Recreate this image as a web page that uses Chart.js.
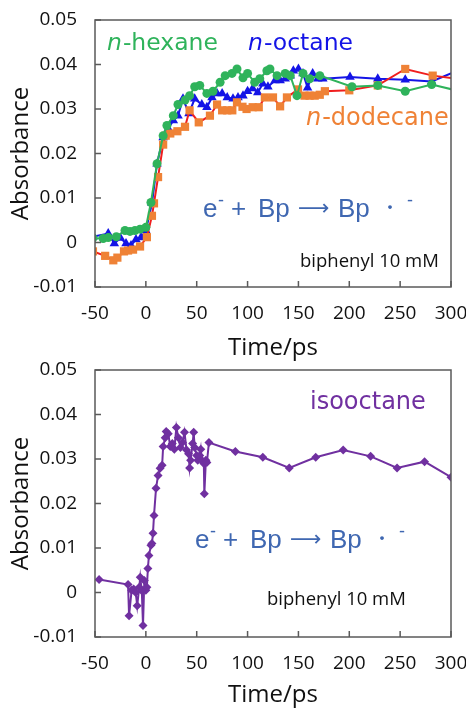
<!DOCTYPE html>
<html>
<head>
<meta charset="utf-8">
<script src="https://cdn.jsdelivr.net/npm/chart.js@4.4.1/dist/chart.umd.min.js"></script>
<style>
  body { margin: 0; background: #fff; width: 466px; height: 710px; overflow: hidden; position: relative; }
  canvas { position: absolute; left: 0; }
  #c1 { top: 0; }
  #c2 { top: 355px; }
</style>
</head>
<body>
<canvas id="c1" width="466" height="363"></canvas>
<canvas id="c2" width="466" height="355"></canvas>
<script>
// time axis (ps) and absorbance for each solvent
const hexaneT = [-52, -42, -37, -29, -20.5, -15.6, -10.7, -5.7, 0, 5, 11, 17, 20.7, 27, 31.6, 38.5, 43, 48, 53, 60, 66, 73, 78, 84.7, 89.6, 95.5, 100, 107, 112, 119, 122, 129, 137, 142, 148.6, 154.5, 161, 171, 202.6, 228, 255, 281, 305];
const hexaneA = [0.0010, 0.0009, 0.0011, 0.0013, 0.0027, 0.0025, 0.0027, 0.0030, 0.0034, 0.0090, 0.0177, 0.0240, 0.0263, 0.0285, 0.0310, 0.0320, 0.0330, 0.0350, 0.0353, 0.0335, 0.0340, 0.0360, 0.0375, 0.0380, 0.0390, 0.0370, 0.0380, 0.0360, 0.0368, 0.0386, 0.0390, 0.0375, 0.0380, 0.0375, 0.0330, 0.0380, 0.0368, 0.0375, 0.0350, 0.0353, 0.0340, 0.0355, 0.0342];

const octaneT = [-52, -37, -31, -25, -19.5, -14.6, -9.7, -4.8, 0, 6, 11, 17, 22, 27, 31.6, 36.5, 42.4, 48, 55, 60, 65, 70, 75, 80, 85.7, 90.6, 95.5, 100, 105, 110, 115, 120, 127, 132, 137, 142, 145, 150, 154.5, 159, 164, 169, 174, 200.7, 228, 255, 281, 305];
const octaneA = [0.0013, 0.0020, -0.0002, 0.0010, -0.0002, -0.0007, 0.0007, 0.0011, 0.0027, 0.0088, 0.0177, 0.0236, 0.0256, 0.0274, 0.0285, 0.0323, 0.0290, 0.0323, 0.0310, 0.0304, 0.0326, 0.0335, 0.0335, 0.0326, 0.0323, 0.0326, 0.0330, 0.0340, 0.0346, 0.0337, 0.0357, 0.0350, 0.0364, 0.0364, 0.0368, 0.0375, 0.0386, 0.0390, 0.0380, 0.0348, 0.0380, 0.0368, 0.0368, 0.0372, 0.0368, 0.0366, 0.0362, 0.0385];

const dodecaneT = [-52, -40, -32, -28, -21.5, -17.5, -12.6, -5.7, 1, 6, 8, 12, 17, 19.5, 24, 31, 38.5, 43, 52, 63, 70, 75, 80, 85, 89.6, 95, 99, 105, 111, 117, 125, 132, 138.7, 149.6, 156, 161, 166, 171, 176, 200, 228, 255, 282, 305];
const dodecaneA = [-0.0020, -0.0030, -0.0040, -0.0034, -0.0020, -0.0018, -0.0016, -0.0009, 0.0012, 0.0060, 0.0088, 0.0147, 0.0220, 0.0240, 0.0245, 0.0250, 0.0260, 0.0297, 0.0270, 0.0285, 0.0310, 0.0297, 0.0297, 0.0297, 0.0315, 0.0305, 0.0300, 0.0304, 0.0304, 0.0326, 0.0326, 0.0306, 0.0326, 0.0344, 0.0330, 0.0330, 0.0330, 0.0332, 0.0340, 0.0342, 0.0353, 0.0390, 0.0375, 0.0368];

const isooctaneT = [-46, -17.5, -16.5, -14, -12, -10, -8.5, -6.5, -5.5, -4, -2.8, -1.5, 0, 1, 2, 3, 5, 6, 7, 8, 10, 12, 14, 16, 17, 19, 20, 22, 24, 26, 28, 30, 32, 34, 36, 38, 40, 42, 43, 44, 46, 47, 48, 50, 51, 53, 54, 55, 57, 57.5, 59, 60, 62, 88, 115, 141, 167, 194, 221, 247, 274, 300];
const isooctaneA = [0.0029, 0.0018, -0.0052, 0.0005, 0.0008, 0.0000, -0.0030, 0.0012, 0.0034, 0.0004, -0.0074, 0.0027, 0.0005, 0.0012, 0.0054, 0.0083, 0.0106, 0.0110, 0.0133, 0.0173, 0.0234, 0.0263, 0.0279, 0.0286, 0.0328, 0.0348, 0.0362, 0.0357, 0.0328, 0.0335, 0.0322, 0.0371, 0.0348, 0.0326, 0.0337, 0.0360, 0.0320, 0.0312, 0.0280, 0.0297, 0.0335, 0.0360, 0.0326, 0.0308, 0.0297, 0.0308, 0.0322, 0.0297, 0.0290, 0.0222, 0.0297, 0.0292, 0.0337, 0.0317, 0.0304, 0.0280, 0.0304, 0.0320, 0.0306, 0.0280, 0.0294, 0.0259];

const xTicks = [-50, 0, 50, 100, 150, 200, 250, 300];
const yTicks = [-0.01, 0, 0.01, 0.02, 0.03, 0.04, 0.05];

const FONT = "'Open Sans', 'Noto Sans', sans-serif";
const LBL_FONT = "'DejaVu Sans', sans-serif";
const EQ_FONT = "'Liberation Sans', Arial, sans-serif";
const BOX = '#5a5a5a';

function pts(t, a) {
  return t.map((x, i) => ({ x: x, y: a[i] }));
}

// box round the plot and the inner tick marks
const boxPlugin = {
  id: 'box',
  afterDatasetsDraw(chart) {
    const { ctx, chartArea: ca, scales } = chart;
    ctx.save();
    ctx.strokeStyle = BOX;
    ctx.lineWidth = 1.5;
    ctx.strokeRect(ca.left, ca.top, ca.right - ca.left, ca.bottom - ca.top);
    ctx.beginPath();
    xTicks.forEach(v => {
      const px = scales.x.getPixelForValue(v);
      ctx.moveTo(px, ca.bottom);
      ctx.lineTo(px, ca.bottom - 6);
    });
    yTicks.forEach(v => {
      const py = scales.y.getPixelForValue(v);
      ctx.moveTo(ca.left, py);
      ctx.lineTo(ca.left + 6, py);
    });
    ctx.stroke();
    ctx.restore();
  }
};

// text labels inside the plot
function drawLabel(ctx, parts, x, y) {
  let cx = x;
  parts.forEach(p => {
    ctx.font = p.font;
    ctx.fillStyle = p.color;
    ctx.fillText(p.text, cx, y + (p.dy || 0));
    cx += ctx.measureText(p.text).width + (p.gap || 0);
  });
}

// e- + Bp -> Bp.-  (each piece placed by its offset from the start)
function drawEquation(ctx, x, y) {
  const c = '#3f67b1';
  const big = '26px ' + EQ_FONT;
  const sup = '18px ' + EQ_FONT;
  const pieces = [
    { text: 'e', font: big, at: 0, dy: 0 },
    { text: '-', font: sup, at: 15, dy: -11 },
    { text: '+', font: big, at: 28, dy: 0 },
    { text: 'Bp', font: big, at: 55, dy: 0 },
    { text: '\u27F6', font: "22px 'DejaVu Sans', sans-serif", at: 95, dy: -2 },
    { text: 'Bp', font: big, at: 135, dy: 0 },
    { text: '\u30FB', font: "18px 'Noto Sans CJK JP', sans-serif", at: 178, dy: -3 },
    { text: '-', font: sup, at: 204, dy: -11 }
  ];
  ctx.fillStyle = c;
  pieces.forEach(p => {
    ctx.font = p.font;
    ctx.fillText(p.text, x + p.at, y + p.dy);
  });
}

function makeChart(id, datasets, topPx, bottomPx, labels) {
  const canvas = document.getElementById(id);
  const xHeight = canvas.height - bottomPx;
  return new Chart(canvas, {
    type: 'line',
    data: { datasets: datasets },
    options: {
      responsive: false,
      animation: false,
      layout: { padding: { top: topPx, right: 15, left: 0, bottom: 0 } },
      plugins: { legend: { display: false }, tooltip: { enabled: false } },
      elements: { line: { tension: 0, borderWidth: 2 } },
      scales: {
        x: {
          type: 'linear', min: -50, max: 300,
          afterBuildTicks: s => { s.ticks = xTicks.map(v => ({ value: v })); },
          afterFit: s => { s.height = xHeight; s.paddingLeft = 0; s.paddingRight = 0; },
          grid: { display: false, drawTicks: false },
          border: { display: false },
          ticks: { padding: 15, color: '#111', font: { family: FONT, size: 19 }, maxRotation: 0, autoSkip: false },
          title: { display: true, text: 'Time/ps', color: '#111', font: { family: FONT, size: 24 }, padding: 0 }
        },
        y: {
          min: -0.01, max: 0.05,
          afterBuildTicks: s => { s.ticks = yTicks.map(v => ({ value: v })); },
          afterFit: s => { s.width = 95; s.paddingTop = 0; s.paddingBottom = 0; },
          grid: { display: false, drawTicks: false },
          border: { display: false },
          ticks: {
            padding: 18, color: '#111', font: { family: FONT, size: 19 },
            callback: v => String(Math.round(v * 100) / 100)
          },
          title: { display: true, text: 'Absorbance', color: '#111', font: { family: FONT, size: 24 }, padding: { top: 7, bottom: 0 } }
        }
      }
    },
    plugins: [boxPlugin, { id: 'labels', afterDraw: c => labels(c.ctx) }]
  });
}

makeChart('c1', [
  {
    data: pts(hexaneT, hexaneA), borderColor: '#2fb35b', backgroundColor: '#2fb35b',
    pointStyle: 'circle', pointRadius: 4.5, pointBorderWidth: 0
  },
  {
    data: pts(dodecaneT, dodecaneA), borderColor: '#f01e1e', backgroundColor: '#ef8236',
    pointStyle: 'rect', pointRadius: 5.8, pointBorderWidth: 0
  },
  {
    data: pts(octaneT, octaneA), borderColor: '#1414e6', backgroundColor: '#1414e6',
    pointStyle: 'triangle', pointRadius: 5.5, pointBorderWidth: 0
  }
], 20, 287, ctx => {
  ctx.save();
  ctx.textBaseline = 'alphabetic';
  drawLabel(ctx, [
    { text: 'n', font: 'italic 23.5px ' + LBL_FONT, color: '#2fb35b', gap: 1 },
    { text: '-hexane', font: '23.5px ' + LBL_FONT, color: '#2fb35b' }
  ], 107, 50);
  drawLabel(ctx, [
    { text: 'n', font: 'italic 23.5px ' + LBL_FONT, color: '#1414e6', gap: 1 },
    { text: '-octane', font: '23.5px ' + LBL_FONT, color: '#1414e6' }
  ], 248, 50);
  drawLabel(ctx, [
    { text: 'n', font: 'italic 24px ' + LBL_FONT, color: '#ef8236', gap: 1 },
    { text: '-dodecane', font: '24px ' + LBL_FONT, color: '#ef8236' }
  ], 306, 125);
  drawEquation(ctx, 203, 217);
  drawLabel(ctx, [{ text: 'biphenyl 10 mM', font: '18.5px ' + FONT, color: '#111' }], 300, 267);
  ctx.restore();
});

makeChart('c2', [
  {
    data: pts(isooctaneT, isooctaneA), borderColor: '#7030a0', backgroundColor: '#7030a0',
    pointStyle: 'rectRot', pointRadius: 4.5, pointBorderWidth: 0
  }
], 15, 282, ctx => {
  ctx.save();
  ctx.textBaseline = 'alphabetic';
  drawLabel(ctx, [{ text: 'isooctane', font: '24px ' + LBL_FONT, color: '#7030a0' }], 310, 409 - 355);
  drawEquation(ctx, 195, 548 - 355);
  drawLabel(ctx, [{ text: 'biphenyl 10 mM', font: '18.5px ' + FONT, color: '#111' }], 267, 605 - 355);
  ctx.restore();
});
</script>
</body>
</html>
